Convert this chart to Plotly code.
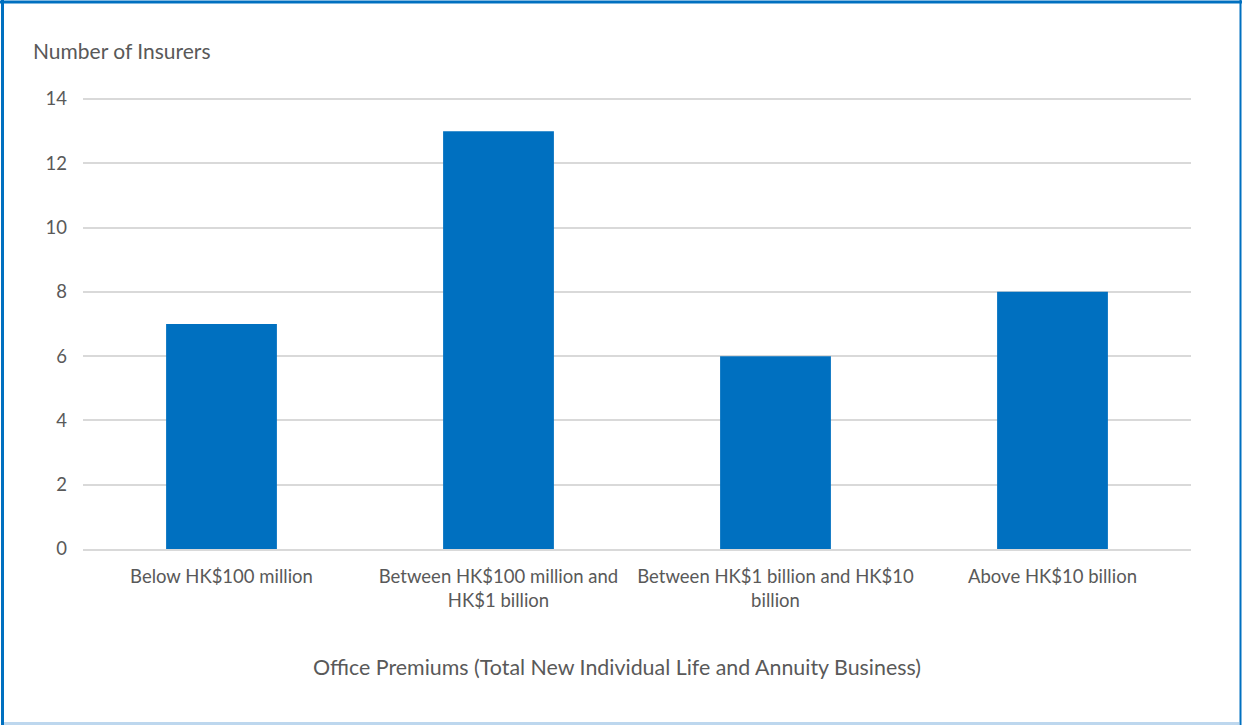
import plotly.graph_objects as go

categories = ["Below HK$100 million",
              "Between HK$100 million and<br>HK$1 billion",
              "Between HK$1 billion and HK$10<br>billion",
              "Above HK$10 billion"]
values = [7, 13, 6, 8]
y_ticks = [0, 2, 4, 6, 8, 10, 12, 14]

W, H = 1242, 725
y0_px, y14_px = 549, 99
L, R, T = 83, 51, 95
B = H - y0_px
pw, ph = W - L - R, H - T - B
ymax = 14 * ph / (y0_px - y14_px)

def px(x):
    return (x - L) / pw

def py(y):
    return 1 - (y - T) / ph

font = "Lato, Carlito, Calibri, sans-serif"
grey = "#595959"

fig = go.Figure(go.Bar(x=categories, y=values, marker_color="#0070C0",
                       marker_line_width=0, width=0.4))

fig.update_layout(
    width=W, height=H,
    margin=dict(l=L, r=R, t=T, b=B),
    paper_bgcolor="white", plot_bgcolor="white",
    font=dict(family=font, size=18.5, color=grey),
    showlegend=False,
    bargap=0.6,
    xaxis=dict(showgrid=False, showline=True, linecolor="#D9D9D9", linewidth=2,
               ticks="", tickfont=dict(size=18.5, color=grey), ticklabelstandoff=10),
    yaxis=dict(range=[0, ymax], tickvals=y_ticks, showgrid=True, gridcolor="#D9D9D9",
               gridwidth=1.5, zeroline=False, showline=False, ticks="",
               ticklen=0, tickfont=dict(size=18.5, color=grey), ticklabelstandoff=15),
    annotations=[
        dict(text="Number of Insurers", xref="paper", yref="paper",
             x=px(31), y=py(51), xanchor="left", yanchor="middle",
             showarrow=False, font=dict(size=21, color=grey)),
        dict(text="Office Premiums (Total New Individual Life and Annuity Business)",
             xref="paper", yref="paper", x=px(617), y=py(667),
             xanchor="center", yanchor="middle", showarrow=False,
             font=dict(size=21.4, color=grey)),
    ],
    shapes=[
        dict(type="line", xref="paper", yref="paper", x0=px(0), x1=px(W), y0=py(2), y1=py(2),
             line=dict(color="#0070C0", width=3)),
        dict(type="line", xref="paper", yref="paper", x0=px(2.5), x1=px(2.5), y0=py(0), y1=py(H),
             line=dict(color="#0070C0", width=3)),
        dict(type="line", xref="paper", yref="paper", x0=px(1240.5), x1=px(1240.5), y0=py(0), y1=py(H),
             line=dict(color="#0070C0", width=2)),
        dict(type="line", xref="paper", yref="paper", x0=px(4), x1=px(1239), y0=py(723.5), y1=py(723.5),
             line=dict(color="#BDD7EE", width=3)),
    ],
)

fig.write_html("out.html")
